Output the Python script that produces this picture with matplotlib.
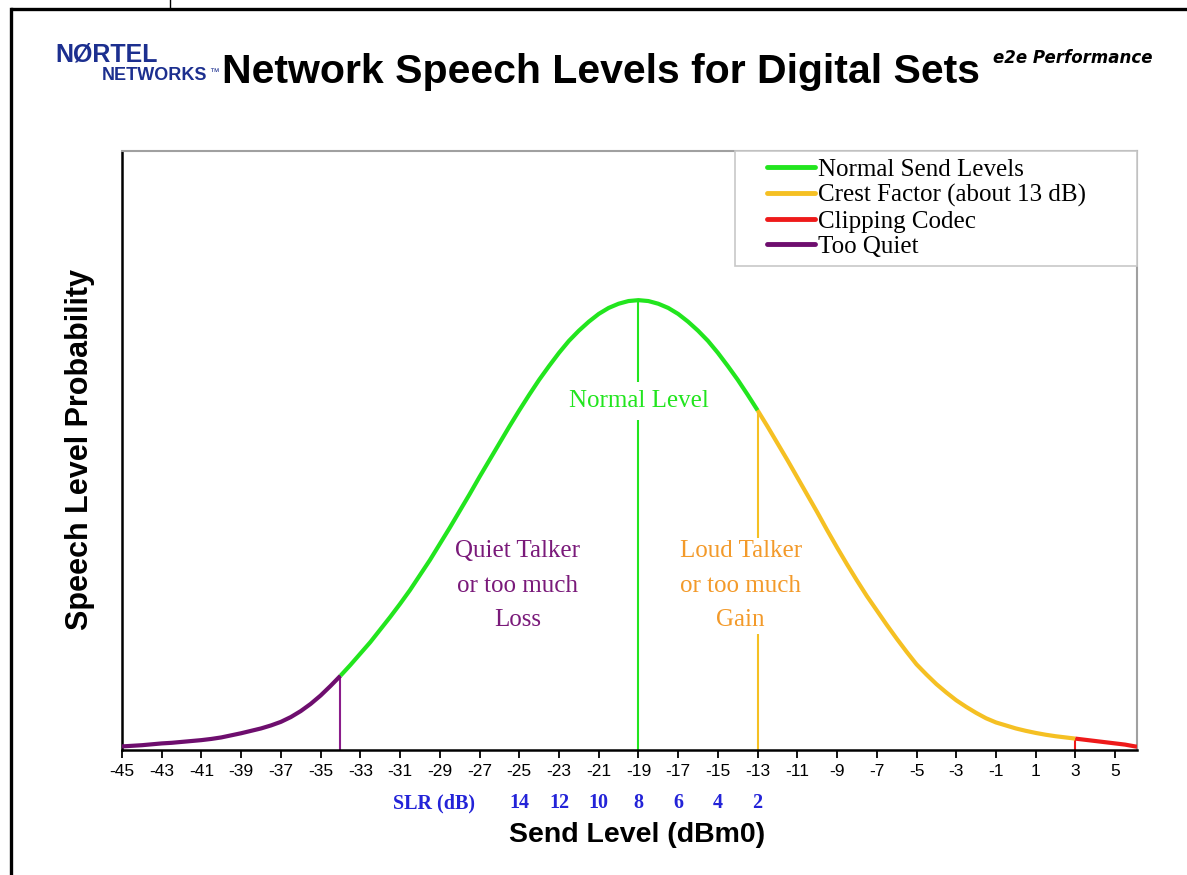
import matplotlib
matplotlib.use("Agg")
import matplotlib.pyplot as plt
from matplotlib.lines import Line2D
from matplotlib.legend_handler import HandlerBase

# send level (dBm0) and speech-level probability (half-dB steps)
send_level = [-45, -44.5, -44, -43.5, -43, -42.5, -42, -41.5, -41, -40.5, -40, -39.5,
              -39, -38.5, -38, -37.5, -37, -36.5, -36, -35.5, -35, -34.5, -34, -33.5,
              -33, -32.5, -32, -31.5, -31, -30.5, -30, -29.5, -29, -28.5, -28, -27.5,
              -27, -26.5, -26, -25.5, -25, -24.5, -24, -23.5, -23, -22.5, -22, -21.5,
              -21, -20.5, -20, -19.5, -19, -18.5, -18, -17.5, -17, -16.5, -16, -15.5,
              -15, -14.5, -14, -13.5, -13, -12.5, -12, -11.5, -11, -10.5, -10, -9.5,
              -9, -8.5, -8, -7.5, -7, -6.5, -6, -5.5, -5, -4.5, -4, -3.5, -3, -2.5,
              -2, -1.5, -1, -0.5, 0, 0.5, 1, 1.5, 2, 2.5, 3, 3.5, 4, 4.5, 5, 5.5, 6, 6.1]
probability = [0.006, 0.007, 0.008, 0.0095, 0.011, 0.012, 0.0135, 0.015, 0.0165, 0.0185,
               0.021, 0.0245, 0.028, 0.032, 0.036, 0.041, 0.047, 0.055, 0.065, 0.077,
               0.091, 0.107, 0.124, 0.142, 0.161, 0.180, 0.201, 0.222, 0.244, 0.267,
               0.292, 0.317, 0.344, 0.371, 0.399, 0.427, 0.456, 0.484, 0.512, 0.540,
               0.567, 0.593, 0.618, 0.641, 0.663, 0.683, 0.700, 0.715, 0.728, 0.738,
               0.745, 0.7495, 0.751, 0.7495, 0.745, 0.738, 0.728, 0.715, 0.700, 0.683,
               0.663, 0.641, 0.618, 0.593, 0.567, 0.540, 0.512, 0.484, 0.455, 0.426,
               0.397, 0.367, 0.338, 0.310, 0.283, 0.257, 0.233, 0.209, 0.186, 0.164,
               0.143, 0.126, 0.110, 0.096, 0.083, 0.072, 0.062, 0.053, 0.046, 0.041,
               0.036, 0.032, 0.0285, 0.0255, 0.023, 0.021, 0.019, 0.017, 0.015, 0.013,
               0.011, 0.009, 0.006, 0.0055]

quiet_end = -34
normal_level = -19
loud_start = -13
clip_start = 3

slr_ticks = [-25, -23, -21, -19, -17, -15, -13]
slr_labels = ["14", "12", "10", "8", "6", "4", "2"]
x_ticks = list(range(-45, 6, 2))

GREEN = "#22e51e"
ORANGE = "#f5c023"
RED = "#ee1a1a"
PURPLE = "#6e0e6e"
SERIF = "Liberation Serif"
SANS = "Liberation Sans"


def segment(lo, hi):
    xs = [x for x in send_level if lo <= x <= hi]
    ys = [probability[send_level.index(x)] for x in xs]
    return xs, ys


def level_at(x):
    return probability[send_level.index(x)]


class ShiftedLine(HandlerBase):
    # legend handle drawn in the right part of the handle box, leaving a left gap
    def create_artists(self, legend, orig_handle, xdescent, ydescent, width, height,
                       fontsize, trans):
        y = height / 2 - ydescent
        line = Line2D([-xdescent + width * 0.34, -xdescent + width], [y, y],
                      color=orig_handle.get_color(), lw=orig_handle.get_linewidth(),
                      solid_capstyle="round", transform=trans)
        return [line]


fig = plt.figure(figsize=(11.87, 8.75), dpi=100)
ax = fig.add_axes([122 / 1187, 1 - 750 / 875, 1015 / 1187, 599 / 875])

# vertical markers first so the curve sits on top
ax.plot([quiet_end, quiet_end], [0, level_at(quiet_end)], color="#8b1d8b", lw=1.5, zorder=2)
ax.plot([normal_level, normal_level], [0, level_at(normal_level)], color=GREEN, lw=1.5, zorder=2)
ax.plot([loud_start, loud_start], [0, level_at(loud_start)], color=ORANGE, lw=1.5, zorder=2)
ax.plot([clip_start, clip_start], [0, level_at(clip_start)], color=RED, lw=1.5, zorder=2)

for (lo, hi), col in [((-45, quiet_end), PURPLE), ((quiet_end, loud_start), GREEN),
                      ((loud_start, clip_start), ORANGE), ((clip_start, 6.1), RED)]:
    xs, ys = segment(lo, hi)
    ax.plot(xs, ys, color=col, lw=3.0, solid_capstyle="butt", solid_joinstyle="round", zorder=3)

ax.set_xlim(-45, 6.1)
ax.set_ylim(0, 1)
ax.set_xticks(x_ticks)
ax.set_xticklabels([str(t) for t in x_ticks], fontfamily=SANS, fontsize=12.5)
ax.set_yticks([])
ax.tick_params(axis="x", direction="out", length=6, width=1.3, pad=4, colors="black")
ax.spines["left"].set_linewidth(1.8)
ax.spines["bottom"].set_linewidth(1.8)
for s in ("top", "right"):
    ax.spines[s].set_color("#a0a0a0")
    ax.spines[s].set_linewidth(1.5)

# in-plot annotations
ax.text(normal_level, 0.583, "Normal Level", color=GREEN, fontfamily=SERIF, fontsize=18,
        ha="center", va="center", zorder=4,
        bbox=dict(facecolor="white", edgecolor="none", pad=6))
ax.text(-25.1, 0.274, "Quiet Talker\nor too much\nLoss", color="#7a1a7a", fontfamily=SERIF,
        fontsize=18, ha="center", va="center", linespacing=1.74, zorder=4)
ax.text(-13.85, 0.274, "Loud Talker\nor too much\nGain", color="#f39a2a", fontfamily=SERIF,
        fontsize=18, ha="center", va="center", linespacing=1.74, zorder=4,
        bbox=dict(facecolor="white", edgecolor="none", pad=2))

# SLR row under the tick labels
trans = ax.get_xaxis_transform()
ax.text(-29.3, -0.089, "SLR (dB)", transform=trans, color="#2323d8", fontfamily=SERIF,
        fontweight="bold", fontsize=14.5, ha="center", va="center")
for x, lab in zip(slr_ticks, slr_labels):
    ax.text(x, -0.089, lab, transform=trans, color="#2323d8", fontfamily=SERIF,
            fontweight="bold", fontsize=14.5, ha="center", va="center")

ax.text(0.507, -0.142, "Send Level (dBm0)", transform=ax.transAxes, fontfamily=SANS,
        fontweight="bold", fontsize=20.5, ha="center", va="center")
fig.text(80 / 1187, 1 - 450 / 875, "Speech Level Probability", rotation=90, fontfamily=SANS,
         fontweight="bold", fontsize=22, ha="center", va="center")

handles = [Line2D([], [], color=c, lw=3.5) for c in (GREEN, ORANGE, RED, PURPLE)]
labels = ["Normal Send Levels", "Crest Factor (about 13 dB)", "Clipping Codec", "Too Quiet"]
leg = ax.legend(handles, labels, loc="upper right", bbox_to_anchor=(0.604, 0.5, 0.396, 0.5),
                mode="expand", borderaxespad=0, prop={"family": SERIF, "size": 18},
                handlelength=2.9, handletextpad=0.12, labelspacing=0.12, fancybox=False,
                framealpha=1, borderpad=0.3, handler_map={Line2D: ShiftedLine()})
leg.get_frame().set_edgecolor("#c8c8c8")
leg.get_frame().set_linewidth(1.2)

# header
fig.text(222 / 1187, 1 - 72 / 875, "Network Speech Levels for Digital Sets", fontfamily=SANS,
         fontweight="bold", fontsize=29.5, ha="left", va="center")
fig.text(55 / 1187, 1 - 55 / 875, "NØRTEL", color="#1c2f8f", fontfamily=SANS,
         fontweight="bold", fontsize=18, ha="left", va="center")
fig.text(102 / 1187, 1 - 76 / 875, "NETWORKS", color="#1c2f8f", fontfamily=SANS,
         fontweight="bold", fontsize=13, ha="left", va="center")
fig.text(209 / 1187, 1 - 72 / 875, "™", color="#1c2f8f", fontfamily=SANS,
         fontsize=7, ha="left", va="center")
fig.text(993 / 1187, 1 - 58 / 875, "e2e Performance", fontfamily="DejaVu Sans",
         fontstyle="italic", fontweight="bold", fontsize=12, ha="left", va="center")

# page frame
fig.add_artist(Line2D([12 / 1187, 1], [1 - 9 / 875, 1 - 9 / 875], color="black", lw=2.4))
fig.add_artist(Line2D([11 / 1187, 11 / 1187], [0, 1 - 9 / 875], color="black", lw=2.4))
fig.add_artist(Line2D([170 / 1187, 170 / 1187], [1 - 9 / 875, 1], color="black", lw=1.0))

fig.savefig("out.png", dpi=100)
